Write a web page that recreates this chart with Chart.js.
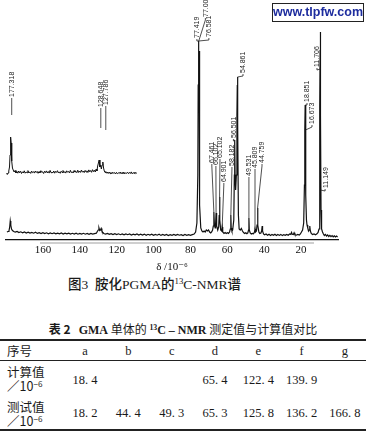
<!DOCTYPE html>
<html><head><meta charset="utf-8">
<script src="https://cdn.jsdelivr.net/npm/chart.js@4.4.1/dist/chart.umd.min.js"></script>
<style>
html,body{margin:0;padding:0;background:#fff;}
#wrap{position:relative;width:366px;height:434px;overflow:hidden;background:#fff;color:#1a1a1a;}
#c{position:absolute;left:0;top:0;}
.abs{position:absolute;white-space:nowrap;}
.serif{font-family:"Liberation Serif","Noto Sans CJK SC",serif;}
.cjk{font-family:"Noto Sans CJK SC","Liberation Serif",sans-serif;}
.cell{position:absolute;width:60px;text-align:center;font-family:"Liberation Serif",serif;font-size:12.5px;line-height:16px;}
.rule{position:absolute;left:0;width:366px;background:#222;}
sup{font-size:65%;line-height:0;vertical-align:0.55em;}
</style></head>
<body><div id="wrap">
<canvas id="c" width="366" height="275"></canvas>
<div class="abs" style="left:272px;top:3px;width:90px;height:17px;border:1.5px solid #222;text-align:center;font:bold 12.5px 'Liberation Sans',Arial,sans-serif;line-height:17px;color:#1d2c9e;">www.tlpfw.com</div>
<div class="abs" style="left:40px;top:242px;width:274px;height:2px;background:#cfcfcf;"></div>
<div class="abs serif" style="left:68px;top:276px;font-size:13.5px;line-height:18px;font-weight:500;">图3&nbsp;&nbsp;胺化PGMA的<sup>13</sup>C-NMR谱</div>
<div class="abs cjk" style="left:0;width:366px;top:320px;text-align:center;font-size:12px;line-height:17px;"><b>表 2</b>&nbsp;&nbsp;&nbsp;<b class="serif">GMA</b> 单体的 <b class="serif"><sup>13</sup>C – NMR</b> 测定值与计算值对比</div>
<div class="rule" style="top:339px;height:1.5px;"></div>
<div class="rule" style="top:360px;height:1px;"></div>
<div class="rule" style="top:429px;height:1.5px;"></div>
<div id="tbl"></div>
</div>
<script>
// ---------- data ----------
// lower (full) trace: [shift ppm, intensity]
const mainTrace = [
[179.5,3],[178.9,3.5],[178.4,4],[178.0,8],[177.7,14],[177.4,10],[177.0,6],[176.5,4.5],[175.8,3.5],[175,3],[174,3.6],[173,2.4],[172,3.2],[171,2.2],[170,3],[169,2],[168,2.8],[167,1.9],[166,2.6],[165,1.8],[164,2.7],[163,1.6],[162,2.4],[161,1.5],[160,2.3],[159,1.4],[158,2.2],[157,1.2],[156,2.1],[155,1.3],[154,2],[153,1.1],[152,1.9],[151,1.2],[150,2],[149,1],[148,1.8],[147,1.1],[146,1.9],[145,0.9],[144,1.7],[143,1],[142,1.8],[141,0.8],[140,1.6],[139,0.9],[138,1.7],[137,0.8],[136,1.5],[135,0.7],[134,1.6],[133,0.9],[132,1.4],[131,1.8],[130.5,3.5],[130.0,5],[129.6,7],[129.2,4.5],[128.8,5],[128.4,6.5],[128.0,4],[127.5,2.5],[127,1.5],[126,1],[125,1.6],[124,0.6],[123,1.4],[122,0.5],[121,1.3],[120,0.4],[119,1.2],[118,0.3],[117,1.1],[116,0.2],[115,1],[114,0.3],[113,1.1],[112,0],[111,0.9],[110,0.1],[109,1],[108,-0.1],[107,0.8],[106,0],[105,0.9],[104,-0.2],[103,0.7],[102,0],[101,0.8],[100,-0.3],[99,0.6],[98,-0.2],[97,0.7],[96,-0.4],[95,0.5],[94,-0.3],[93,0.6],[92,-0.5],[91,0.4],[90,-0.3],[89,0.5],[88,-0.4],[87,0.6],[86,-0.2],[85,0.4],[84,-0.5],[83,0.5],[82,-0.3],[81,0.3],[80,-0.4],[79,0.4],
[78.0,1],[77.2,3],[76.5,12],[76.0,60],[75.8,150],[75.7,186],[75.6,172],[75.5,194],[75.4,174],[75.3,184],[75.2,120],[74.9,30],[74.4,7],[73.8,4],[73.2,3],[72.6,4],[72.0,3],[71.4,5],[70.8,4],[70.2,5],[69.6,3],[69.0,2],[68.5,3],[68.0,5],[67.6,9],[67.3,23],[67.0,10],[66.6,7],[66.4,9],[66.1,22],[65.8,9],[65.2,5],[64.7,8],[64.4,20],[64.2,38],[64.0,15],[63.6,5],[63.1,4],[62.8,8],[62.5,3],[61.8,1.5],[61.2,2.5],[60.6,1.5],[60,2.2],[59.4,1.6],[58.8,3],[58.4,6],[58.1,20],[57.9,7],[57.5,4],[57.1,5],[56.5,15],[56.2,60],[56.0,95],[55.8,60],[55.5,45],[55.1,60],[54.8,120],[54.6,150],[54.5,158],[54.3,110],[54.0,20],[53.6,6],[53.0,5],[52.4,6.5],[51.8,4],[51.2,2.5],[50.6,1.5],[50,2.2],[49.4,1.2],[48.9,2],[48.5,5],[48.3,17],[48.1,5],[47.6,2],[47.0,1],[46.4,1.6],[45.8,1.2],[45.3,3],[45.0,6],[44.7,3],[44.2,4],[43.9,10],[43.6,27],[43.4,10],[42.9,3],[42.4,1.5],[41.8,2],[41.4,4],[41.1,9],[40.9,4],[40.4,1],
[39.8,0.2],[39,1],[38.2,-0.2],[37.4,0.8],[36.6,-0.4],[35.8,0.6],[35,-0.3],[34.2,0.7],[33.4,-0.5],[32.6,0.5],[31.8,-0.4],[31,0.6],[30.2,-0.6],[29.4,0.4],[28.6,-0.3],[27.8,0.6],[27,-0.2],[26.2,1],[25.6,0.6],[25.2,2.6],[24.8,0.8],[24.2,0.4],[23.8,2.2],[23.4,0.5],[22.6,-0.2],[21.8,0.6],[21,-0.1],[20.4,1],[19.8,3],[19.2,5],[18.6,12],[18.2,50],[18.0,105],[17.8,130],[17.6,105],[17.4,40],[17.1,15],[16.8,10],[16.4,7],[16.0,4],[15.6,5],[15.3,9],[15.0,4],[14.5,1.5],[13.8,0.5],[13.0,1],[12.2,0.3],[11.4,1.2],[10.8,2.5],[10.3,6],[10.0,30],[9.8,130],[9.7,185],[9.6,203],[9.5,185],[9.4,120],[9.2,25],[8.9,6],[8.4,3],[7.9,1],[7.4,-0.5],[6.8,0.6],[6.2,-1],[5.6,0],[5,-1.5],[4.4,-0.4],[3.8,-1.6],[3.2,-0.6],[2.6,-1.8],[2,-0.8],[1.4,-2],[0.8,-1],[0.2,-2]
];
// upper (expanded) trace 180-109 ppm
const insetTrace = [
[179.6,62],[179.3,60.5],[178.9,62],[178.5,64],[178.1,68],[177.8,80],[177.5,98],[177.2,92],[176.9,74],[176.5,67],[176.1,65],[175.6,63],[175.1,64.5],[174.6,62],[174.1,63.5],[173.6,61.8],[173.1,64],[172.6,62.2],[172.1,63.8],[171.6,61.5],[171.1,63.2],[170.6,62],[170.1,64.2],[169.6,61.8],[169.1,63],[168.6,62.3],[168.1,64.4],[167.6,62],[167.1,63.1],[166.6,61.6],[166.1,63.9],[165.6,62.4],[165.1,63.3],[164.6,61.9],[164.1,64],[163.6,62.5],[163.1,63.6],[162.6,61.7],[162.1,63.4],[161.6,62.1],[161.1,64.3],[160.6,62.6],[160.1,63.2],[159.6,61.5],[159.1,63.8],[158.6,62.4],[158.1,64.1],[157.6,62],[157.1,63.5],[156.6,61.9],[156.1,64.6],[155.6,62.3],[155.1,63],[154.6,62.1],[154.1,64],[153.6,61.8],[153.1,63.6],[152.6,62.6],[152.1,64.3],[151.6,62],[151.1,63.1],[150.6,61.7],[150.1,63.8],[149.6,62.5],[149.1,64.5],[148.6,62.2],[148.1,63.4],[147.6,61.9],[147.1,64.2],[146.6,62.8],[146.1,63.5],[145.6,62.1],[145.1,64.7],[144.6,62.4],[144.1,63.2],[143.6,62],[143.1,64.4],[142.6,62.9],[142.1,63.6],[141.6,62.3],[141.1,64.8],[140.6,62.5],[140.1,64],[139.6,62.6],[139.1,65],[138.6,62.8],[138.1,63.9],[137.6,62.4],[137.1,64.6],[136.6,63],[136.1,64.2],[135.6,62.5],[135.1,65.1],[134.6,63.2],[134.1,64.5],[133.6,62.7],[133.1,65.3],[132.6,63.4],[132.1,64.8],[131.6,63],[131.1,66],[130.7,64],[130.3,69],[129.9,72],[129.5,75],[129.1,68],[128.7,70],[128.3,66],[127.9,70],[127.5,73],[127.1,67],[126.7,64],[126.3,62.5],[125.9,63.5],[125.5,61.8],[125.1,62.9],[124.6,61.5],[124.1,63],[123.6,61.4],[123.1,62.6],[122.6,61.2],[122.1,62.8],[121.6,61.6],[121.1,62.4],[120.6,61],[120.1,62.7],[119.6,61.3],[119.1,62.2],[118.6,61.5],[118.1,63],[117.6,61.2],[117.1,62.5],[116.6,61.4],[116.1,62.9],[115.6,61.1],[115.1,62.3],[114.6,61.6],[114.1,62.8],[113.6,61.3],[113.1,62.6],[112.6,61.5],[112.1,63.1],[111.6,61.2],[111.1,62.4],[110.6,61.7],[110.1,62.9],[109.6,61.4],[109.1,62.2]
];
// peak labels
const labelTexts  = ['177.318','128.648','127.786','77.419','77.000','76.581','67.461','66.102','65.102','64.901','58.182','56.501','54.861','49.531','45.809','44.759','18.851','16.673','11.706','11.149'];
const labelPpm    = [176.9,128.6,125.9,76.5,71.9,70.0,68.4,66.2,64.0,61.9,57.5,56.7,51.5,48.3,45.0,41.2,16.8,14.1,11.4,7.0];
const labelBottom = [138,128,130,197,218,198,72,70,77,53,69,97,162,59,67,72,133,111,168,47];
const targetPpm   = [176.9,128.6,125.9,75.5,75.5,75.5,67.3,66.1,64.2,62.8,58.1,56.0,54.5,48.3,45.0,43.6,17.8,17.6,9.6,9.5];
const targetInt   = [120,107,105,194,194,194,23,22,38,8,20,95,158,17,6,27,130,105,166,45];
const tickStep = 20;
const axisTitle = 'δ /10⁻⁶';
// table
const tableHeader = '序号';
const tableCols = ['a','b','c','d','e','f','g'];
const calcValues = ['18. 4','','','65. 4','122. 4','139. 9',''];
const testValues = ['18. 2','44. 4','49. 3','65. 3','125. 8','136. 2','166. 8'];
const rowNames = ['计算值','测试值'];

// ---------- chart ----------
const labelPlugin = {
  id:'peakLabels',
  afterDatasetsDraw(chart){
    const {ctx, scales:{x,y}} = chart;
    ctx.save();
    ctx.font = '7px "Liberation Sans", sans-serif';
    ctx.fillStyle = '#222'; ctx.strokeStyle = '#222'; ctx.lineWidth = 0.8;
    for (let i=0;i<labelTexts.length;i++){
      const lx = x.getPixelForValue(labelPpm[i]);
      const ly = y.getPixelForValue(labelBottom[i]);
      const tx = x.getPixelForValue(targetPpm[i]);
      const ty = y.getPixelForValue(targetInt[i]);
      ctx.beginPath(); ctx.moveTo(lx, ly+1); ctx.lineTo(lx, ly+3); ctx.lineTo(tx, ty); ctx.stroke();
      ctx.save(); ctx.translate(lx+0.5, ly); ctx.rotate(-Math.PI/2);
      ctx.textAlign='left'; ctx.textBaseline='middle';
      ctx.fillText(labelTexts[i], 0, 0);
      ctx.restore();
    }
    ctx.restore();
  }
};
const toXY = arr => arr.map(p => ({x:p[0], y:p[1]}));
new Chart(document.getElementById('c').getContext('2d'), {
  type:'line',
  data:{datasets:[
    {data:toXY(mainTrace), borderColor:'#111', borderWidth:1.2, pointRadius:0, tension:0, fill:false},
    {data:toXY(insetTrace), borderColor:'#111', borderWidth:1, pointRadius:0, tension:0, fill:false}
  ]},
  options:{
    responsive:false, animation:false, devicePixelRatio:1,
    layout:{padding:{left:6,right:28,top:0,bottom:0}},
    plugins:{legend:{display:false}, tooltip:{enabled:false}},
    scales:{
      x:{type:'linear', reverse:true, min:0, max:180,
        grid:{display:false, drawTicks:false},
        border:{display:true, color:'#111', width:1.3},
        ticks:{stepSize:tickStep, padding:4, color:'#111', autoSkip:false, maxRotation:0,
          font:{family:'"Liberation Serif", serif', size:11},
          callback:v => (v===0 || v===180) ? '' : String(v)},
        title:{display:true, text:axisTitle, color:'#111', padding:{top:0,bottom:1},
          font:{family:'"Liberation Serif","DejaVu Serif", serif', size:11, lineHeight:1.2}},
        afterFit:a => { a.height = 35; }
      },
      y:{display:false, min:-5, max:235}
    }
  },
  plugins:[labelPlugin]
});

// ---------- table ----------
const tbl = document.getElementById('tbl');
function cell(txt, cx, cy, cls){
  const d = document.createElement('div');
  d.className = 'cell' + (cls ? ' '+cls : '');
  d.style.left = (cx-30)+'px'; d.style.top = (cy-8)+'px';
  d.innerHTML = txt; tbl.appendChild(d);
}
function left(txt, x, cy, cls){
  const d = document.createElement('div');
  d.className = 'abs ' + cls;
  d.style.left = x+'px'; d.style.top = (cy-8)+'px';
  d.style.fontSize = '12.5px'; d.style.lineHeight = '16px';
  d.innerHTML = txt; tbl.appendChild(d);
}
left(tableHeader, 7, 351, 'cjk');
left(rowNames[0], 7, 372, 'cjk');
left('／10<sup>−6</sup>', 7, 386, 'cjk');
left(rowNames[1], 7, 407, 'cjk');
left('／10<sup>−6</sup>', 7, 421, 'cjk');
tableCols.forEach((c,i) => {
  const cx = 85 + i*43.33;
  cell(c, cx, 351);
  cell(calcValues[i], cx, 380);
  cell(testValues[i], cx, 413);
});
</script>
</body></html>
